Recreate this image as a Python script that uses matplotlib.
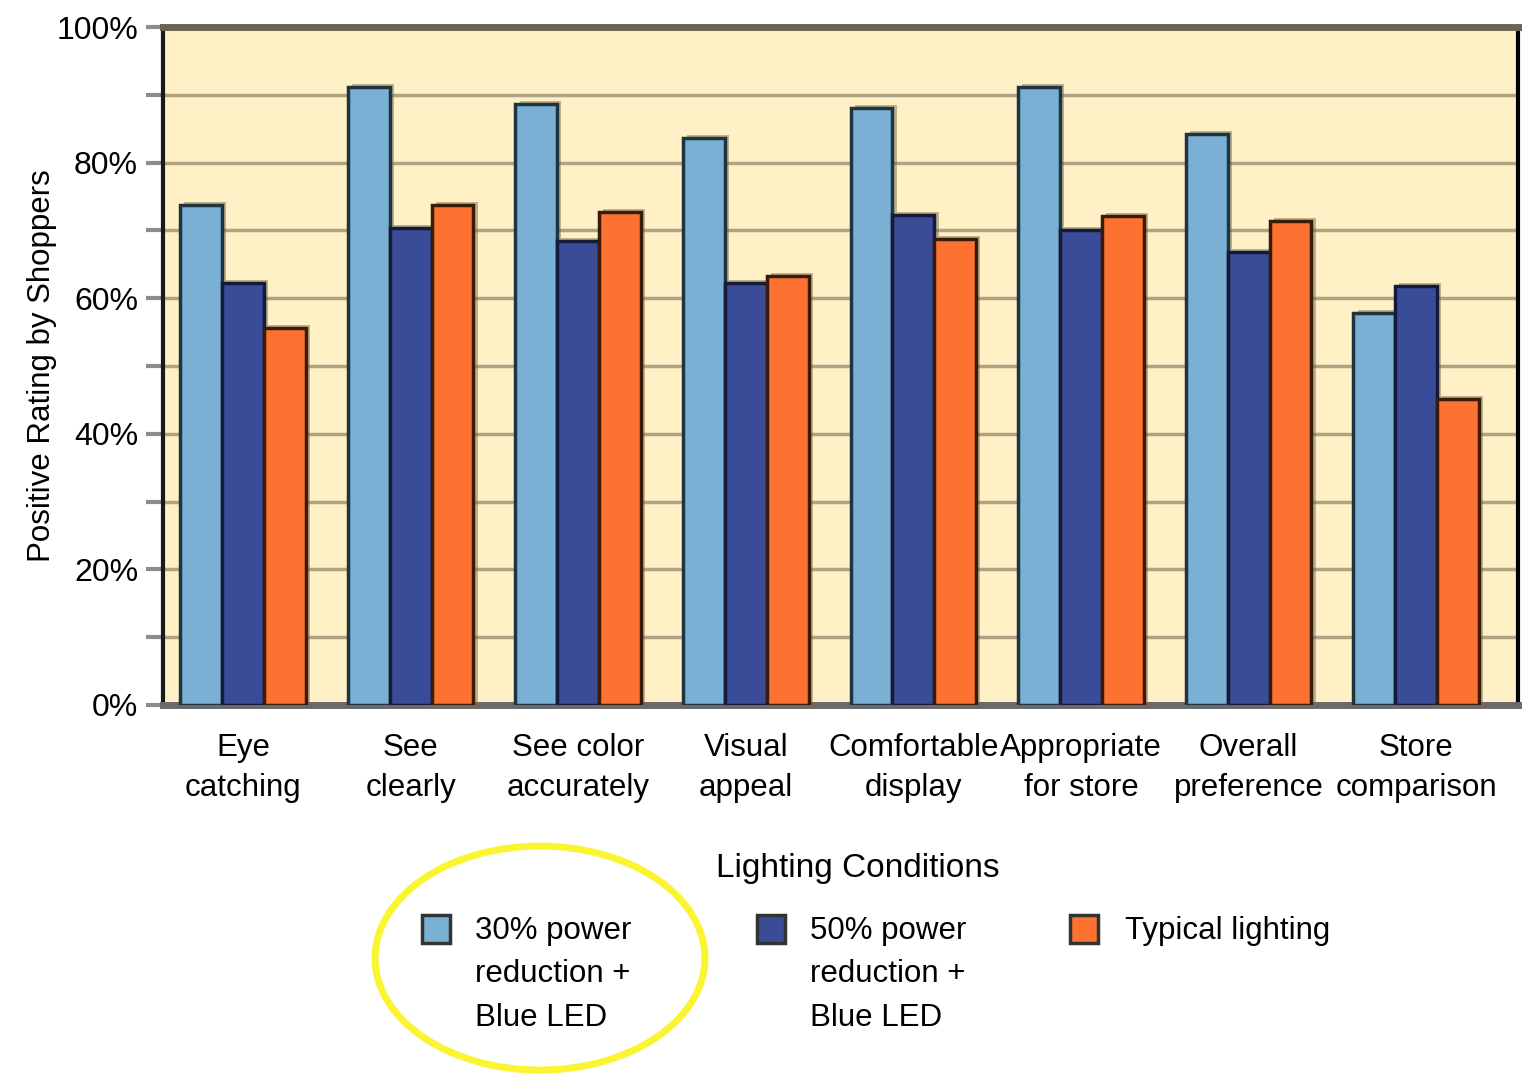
import matplotlib.pyplot as plt
import numpy as np
from matplotlib.patches import Rectangle, Ellipse
from matplotlib.ticker import MultipleLocator, FuncFormatter

plt.rcParams['font.family'] = ['Liberation Sans', 'DejaVu Sans']

categories = ['Eye\ncatching', 'See\nclearly', 'See color\naccurately', 'Visual\nappeal',
              'Comfortable\ndisplay', 'Appropriate\nfor store', 'Overall\npreference',
              'Store\ncomparison']
power30_blue = [73.7, 91.2, 88.6, 83.6, 88.1, 91.2, 84.2, 57.8]
power50_blue = [62.2, 70.4, 68.4, 62.2, 72.3, 70.1, 66.8, 61.8]
typical = [55.6, 73.7, 72.7, 63.3, 68.7, 72.1, 71.4, 45.1]
series_names = ['30% power\nreduction +\nBlue LED', '50% power\nreduction +\nBlue LED',
                'Typical lighting']

colors = ['#79b0d3', '#3a4c98', '#fd7230']
edges = ['#1f3340', '#151a38', '#3a1a08']

fig = plt.figure(figsize=(15.31, 10.76), dpi=100)
ax = fig.add_axes([0.1065, 0.3448, 0.885, 0.6301])
ax.set_facecolor('#fff1c5')

x = np.arange(len(categories))
w = 0.25
for k, vals in enumerate([power30_blue, power50_blue, typical]):
    pos = x + (k - 1) * w
    # soft drop shadow behind each bar
    ax.bar(pos + 0.025, vals, w, bottom=0.45, color='#6b6440', alpha=0.45,
           linewidth=0, zorder=2)
for k, vals in enumerate([power30_blue, power50_blue, typical]):
    pos = x + (k - 1) * w
    ax.bar(pos, vals, w, color=colors[k], edgecolor=edges[k], linewidth=2.5, zorder=3)

ax.set_xlim(-0.477, 7.607)
ax.set_ylim(0, 100)
ax.yaxis.set_major_locator(MultipleLocator(20))
ax.yaxis.set_minor_locator(MultipleLocator(10))
ax.yaxis.set_major_formatter(FuncFormatter(lambda v, p: f'{v:.0f}%'))
ax.grid(True, which='both', axis='y', color='#aea485', linewidth=2.5, zorder=1)
ax.set_axisbelow(True)

ax.tick_params(axis='y', which='both', direction='out', length=12, width=3,
               color='#8c8c8c', labelsize=23, pad=6)
ax.tick_params(axis='x', length=0, labelsize=22.5, pad=20)
ax.set_xticks(x)
ax.set_xticklabels(categories, linespacing=1.45)

ax.spines['left'].set_color('#1a1a1a')
ax.spines['left'].set_linewidth(3)
ax.spines['right'].set_color('#000000')
ax.spines['right'].set_linewidth(3)
ax.spines['top'].set_color('#6b6652')
ax.spines['top'].set_linewidth(5)
ax.spines['bottom'].set_color('#6a6a6a')
ax.spines['bottom'].set_linewidth(5)

ax.set_ylabel('Positive Rating by Shoppers', fontsize=22.5)
ax.yaxis.set_label_coords(-0.078, 0.5)

fig.text(0.5605, 0.193, 'Lighting Conditions', ha='center', va='center', fontsize=24)

legend_x = [0.2757, 0.4945, 0.6989]
text_x = [0.3103, 0.529, 0.7348]
for k in range(3):
    fig.patches.append(Rectangle((legend_x[k], 0.124), 0.0183, 0.026,
                                 transform=fig.transFigure, facecolor=colors[k],
                                 edgecolor='#333333', linewidth=2.5))
    fig.text(text_x[k], 0.149, series_names[k], ha='left', va='top', fontsize=22.5,
             linespacing=1.6)

fig.patches.append(Ellipse((0.3527, 0.1096), 0.2155, 0.2082, transform=fig.transFigure,
                           fill=False, edgecolor='#fbf430', linewidth=5))

fig.savefig('out.png', dpi=100)
